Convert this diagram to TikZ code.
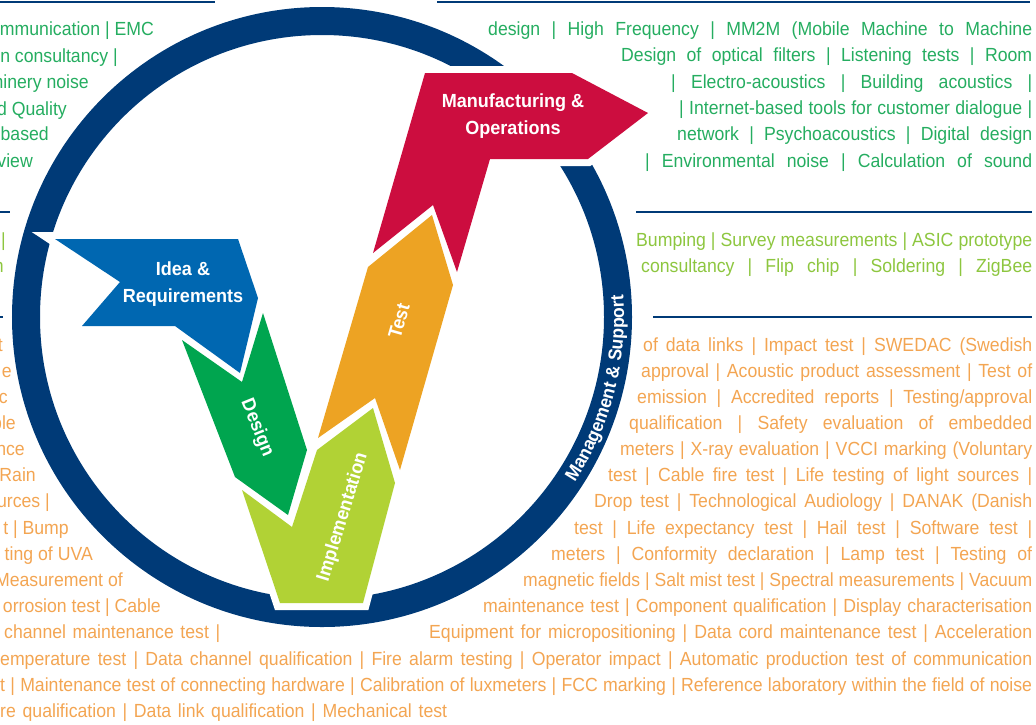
\documentclass[tikz,border=0pt]{standalone}
\usepackage{fontspec}
\usepackage{graphicx}
\setmainfont{Liberation Sans}
\newfontfamily\bodyfont{Liberation Sans}[FakeStretch=0.93]
\newfontfamily\labfont{Liberation Sans}[FakeStretch=0.95]
\usetikzlibrary{decorations.text}
\definecolor{navy}{HTML}{003A77}
\definecolor{ideablue}{HTML}{0067B1}
\definecolor{desgreen}{HTML}{00A54F}
\definecolor{implgreen}{HTML}{B1D235}
\definecolor{testorange}{HTML}{EDA323}
\definecolor{mfgred}{HTML}{CC0D3F}
\definecolor{tgreen}{HTML}{25AD60}
\definecolor{tlgreen}{HTML}{8DC63F}
\definecolor{torange}{HTML}{F3A552}
\newlength\natw
\newcommand\fitline[2]{\settowidth\natw{#2}\ifdim\natw<#1\relax\makebox[#1][s]{#2}\else\resizebox{#1}{\height}{#2}\fi}
\newcommand\jnode[5]{\node[#1, anchor=base west] (#2) at (#3) {\fitline{#4}{#5}};}
\newcommand\mgfont{\labfont\bfseries\fontsize{18.5}{20}\selectfont}
\tikzset{
  txt/.style={inner sep=0pt, font=\bodyfont\fontsize{19}{23}\selectfont},
  gT/.style={txt, text=tgreen},
  lgT/.style={txt, text=tlgreen},
  oT/.style={txt, text=torange},
  rule/.style={draw=navy, line width=1.4pt},
  outline/.style={draw=white, line width=14pt, line join=miter, miter limit=10},
  lab/.style={inner sep=0pt, text=white, align=center, font=\labfont\bfseries\fontsize{19}{27}\selectfont},
}
\def\ideashape{(55,239) -- (238,239) -- (258,298) -- (240,373) -- (175,326) -- (82,326) -- (120,282) -- cycle}
\def\desshape{(182,340) -- (242,382) -- (263,313) -- (307,450) -- (288,515) -- (235,477) -- cycle}
\def\implshape{(242,490) -- (292,527) -- (317,450) -- (373,408) -- (395,483) -- (363,603) -- (280,603) -- cycle}
\def\testshape{(368,267) -- (432,215) -- (453,285) -- (400,470) -- (375,398) -- (318,438) -- cycle}
\def\mfgshape{(425,73) -- (572,73) -- (648,113) -- (588,159) -- (490,159) -- (457,272) -- (433,205) -- (373,253) -- cycle}
\begin{document}
\begin{tikzpicture}[x=1pt, y=-1pt]
\useasboundingbox (0,0) rectangle (1036,724);
\clip (0,0) rectangle (1036,724);
% rules
\coordinate (r1a) at (0,2); \coordinate (r1b) at (215,2);
\coordinate (r2a) at (437,2); \coordinate (r2b) at (1030,2);
\coordinate (r3a) at (0,212); \coordinate (r3b) at (10,212);
\coordinate (r4a) at (636,212); \coordinate (r4b) at (1032,212);
\coordinate (r5a) at (0,317); \coordinate (r5b) at (3,317);
\coordinate (r6a) at (653,317); \coordinate (r6b) at (1032,317);
\draw[rule] (r1a) -- (r1b);
\draw[rule] (r2a) -- (r2b);
\draw[rule] (r3a) -- (r3b);
\draw[rule] (r4a) -- (r4b);
\draw[rule] (r5a) -- (r5b);
\draw[rule] (r6a) -- (r6b);
% ring
\coordinate (c) at (322,317);
\draw[navy, line width=28pt] (c) circle[radius=296];
% arrows
\draw[outline] \ideashape; \draw[outline] \desshape; \draw[outline] \implshape;
\draw[outline] \testshape; \draw[outline] \mfgshape;
\fill[ideablue] \ideashape;
\fill[desgreen] \desshape;
\fill[implgreen] \implshape;
\fill[testorange] \testshape;
\fill[mfgred] \mfgshape;
% labels
\node[lab] (idea) at (183,284) {Idea \&\\Requirements};
\node[lab] (mfg) at (513,116) {Manufacturing \&\\Operations};
\node[lab, rotate=74] (test) at (399,321) {Test};
\node[lab, rotate=-68] (design) at (257,428) {Design};
\node[lab, rotate=73] (impl) at (343,517) {Implementation};
\path[decorate, decoration={text along path, text={|\mgfont|Management {\&} Support}, text align=center, text color=white}]
  (c) ++(45:302) arc[start angle=45, end angle=-16, radius=302];
% top-left green
\node[gT, anchor=base east] (gl1) at (154,35) {mmunication | EMC};
\node[gT, anchor=base east] (gl2) at (118,62) {n consultancy |};
\node[gT, anchor=base east] (gl3) at (89,88) {hinery noise};
\node[gT, anchor=base east] (gl4) at (67,115) {d Quality};
\node[gT, anchor=base east] (gl5) at (49,140) {based};
\node[gT, anchor=base east] (gl6) at (33,167) {view};
% top-right green
\jnode{gT}{gr1}{488,35}{544pt}{design | High Frequency | MM2M (Mobile Machine to Machine}
\jnode{gT}{gr2}{621,61}{411pt}{Design of optical filters | Listening tests | Room}
\jnode{gT}{gr3}{671,88}{361pt}{| Electro-acoustics | Building acoustics |}
\jnode{gT}{gr4}{679,114}{353pt}{| Internet-based tools for customer dialogue |}
\jnode{gT}{gr5}{677,140}{355pt}{network | Psychoacoustics | Digital design}
\jnode{gT}{gr6}{645,167}{387pt}{| Environmental noise | Calculation of sound}
% light green
\jnode{lgT}{lg1}{636,246}{396pt}{Bumping | Survey measurements | ASIC prototype}
\jnode{lgT}{lg2}{641,272}{391pt}{consultancy | Flip chip | Soldering | ZigBee}
\node[lgT, anchor=base east] (lgl1) at (6,246) {|};
\node[lgT, anchor=base east] (lgl2) at (4,272) {n};
% right orange
\jnode{oT}{or1}{643,351}{389pt}{of data links | Impact test | SWEDAC (Swedish}
\jnode{oT}{or2}{641,377}{391pt}{approval | Acoustic product assessment | Test of}
\jnode{oT}{or3}{637,403}{395pt}{emission | Accredited reports | Testing/approval}
\jnode{oT}{or4}{629,429}{403pt}{qualification | Safety evaluation of embedded}
\jnode{oT}{or5}{620,455}{412pt}{meters | X-ray evaluation | VCCI marking (Voluntary}
\jnode{oT}{or6}{608,481}{424pt}{test | Cable fire test | Life testing of light sources |}
\jnode{oT}{or7}{594,507}{438pt}{Drop test | Technological Audiology | DANAK (Danish}
\jnode{oT}{or8}{574,534}{458pt}{test | Life expectancy test | Hail test | Software test |}
\jnode{oT}{or9}{551,560}{481pt}{meters | Conformity declaration | Lamp test | Testing of}
\jnode{oT}{or10}{523,586}{509pt}{magnetic fields | Salt mist test | Spectral measurements | Vacuum}
\jnode{oT}{or11}{483,612}{549pt}{maintenance test | Component qualification | Display characterisation}
\jnode{oT}{or12}{429,638}{603pt}{Equipment for micropositioning | Data cord maintenance test | Acceleration}
\jnode{oT}{ob1}{0,665}{1032pt}{emperature test | Data channel qualification | Fire alarm testing | Operator impact | Automatic production test of communication}
\jnode{oT}{ob2}{0,691}{1032pt}{t | Maintenance test of connecting hardware | Calibration of luxmeters | FCC marking | Reference laboratory within the field of noise}
\jnode{oT}{ob3}{0,717}{447pt}{re qualification | Data link qualification | Mechanical test}
% left orange
\node[oT, anchor=base east] (ol1) at (3,351) {t};
\node[oT, anchor=base east] (ol2) at (12,377) {e};
\node[oT, anchor=base east] (ol3) at (8,403) {c};
\node[oT, anchor=base east] (ol4) at (16,429) {ble};
\node[oT, anchor=base east] (ol5) at (25,455) {nce};
\node[oT, anchor=base east] (ol6) at (36,481) {Rain};
\node[oT, anchor=base east] (ol7) at (50,507) {urces |};
\node[oT, anchor=base east] (ol8) at (69,534) {t | Bump};
\node[oT, anchor=base east] (ol9) at (93,560) {ting of UVA};
\node[oT, anchor=base east] (ol10) at (123,586) {Measurement of};
\node[oT, anchor=base east] (ol11) at (161,612) {orrosion test | Cable};
\jnode{oT}{ol12}{4,638}{216pt}{channel maintenance test |}
\end{tikzpicture}
\end{document}
